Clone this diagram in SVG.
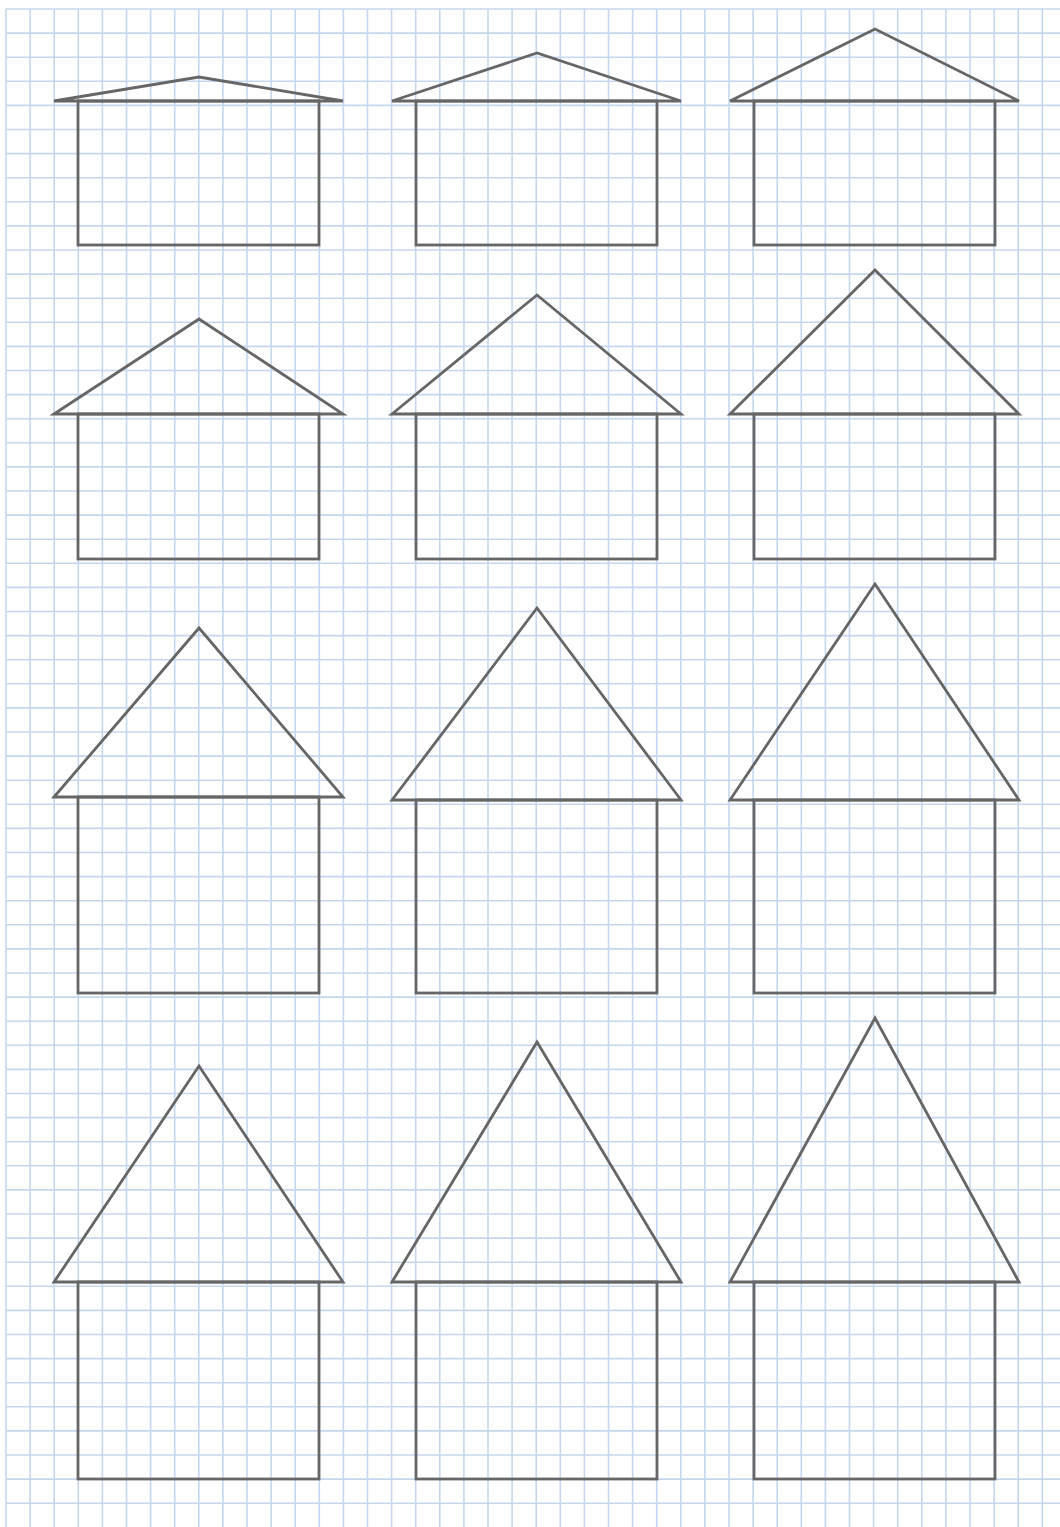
<svg xmlns="http://www.w3.org/2000/svg" width="1060" height="1527" viewBox="0 0 1060 1527">
<style>
.grid{stroke:#c5d7ef;stroke-width:1.6;fill:none}
.roof,.wall{fill:none;stroke:#666666;stroke-width:2.8;stroke-linejoin:miter;stroke-miterlimit:4}
</style>
<rect width="1060" height="1527" fill="#ffffff"/>
<g id="grid">
<path class="grid" d="M6 9V1527M30.1 9V1527M54.2 9V1527M78.3 9V1527M102.4 9V1527M126.5 9V1527M150.6 9V1527M174.7 9V1527M198.8 9V1527M222.9 9V1527M247 9V1527M271.1 9V1527M295.2 9V1527M319.3 9V1527M343.4 9V1527M367.5 9V1527M391.6 9V1527M415.7 9V1527M439.8 9V1527M463.9 9V1527M488 9V1527M512.1 9V1527M536.2 9V1527M560.3 9V1527M584.4 9V1527M608.5 9V1527M632.6 9V1527M656.7 9V1527M680.8 9V1527M704.9 9V1527M729 9V1527M753.1 9V1527M777.2 9V1527M801.3 9V1527M825.4 9V1527M849.5 9V1527M873.6 9V1527M897.7 9V1527M921.8 9V1527M945.9 9V1527M970 9V1527M994.1 9V1527M1018.2 9V1527M1042.3 9V1527"/>
<path class="grid" d="M6 9H1060M6 33.1H1060M6 57.2H1060M6 81.3H1060M6 105.4H1060M6 129.5H1060M6 153.6H1060M6 177.7H1060M6 201.8H1060M6 225.9H1060M6 250H1060M6 274.1H1060M6 298.2H1060M6 322.3H1060M6 346.4H1060M6 370.5H1060M6 394.6H1060M6 418.7H1060M6 442.8H1060M6 466.9H1060M6 491H1060M6 515.1H1060M6 539.2H1060M6 563.3H1060M6 587.4H1060M6 611.5H1060M6 635.6H1060M6 659.7H1060M6 683.8H1060M6 707.9H1060M6 732H1060M6 756.1H1060M6 780.2H1060M6 804.3H1060M6 828.4H1060M6 852.5H1060M6 876.6H1060M6 900.7H1060M6 924.8H1060M6 948.9H1060M6 973H1060M6 997.1H1060M6 1021.2H1060M6 1045.3H1060M6 1069.4H1060M6 1093.5H1060M6 1117.6H1060M6 1141.7H1060M6 1165.8H1060M6 1189.9H1060M6 1214H1060M6 1238.1H1060M6 1262.2H1060M6 1286.3H1060M6 1310.4H1060M6 1334.5H1060M6 1358.6H1060M6 1382.7H1060M6 1406.8H1060M6 1430.9H1060M6 1455H1060M6 1479.1H1060M6 1503.2H1060"/>
</g>
<g id="house-1-1"><rect class="wall" x="78" y="101" width="241" height="144"/><polygon class="roof" points="54,101 199,77 343,101"/></g>
<g id="house-1-2"><rect class="wall" x="416" y="101" width="241" height="144"/><polygon class="roof" points="392,101 537,53 681,101"/></g>
<g id="house-1-3"><rect class="wall" x="754" y="101" width="241" height="144"/><polygon class="roof" points="730,101 875,29 1019,101"/></g>
<g id="house-2-1"><rect class="wall" x="78" y="414" width="241" height="145"/><polygon class="roof" points="54,414 199,319 343,414"/></g>
<g id="house-2-2"><rect class="wall" x="416" y="414" width="241" height="145"/><polygon class="roof" points="392,414 537,295 681,414"/></g>
<g id="house-2-3"><rect class="wall" x="754" y="414" width="241" height="145"/><polygon class="roof" points="730,414 875,270 1019,414"/></g>
<g id="house-3-1"><rect class="wall" x="78" y="797" width="241" height="196"/><polygon class="roof" points="54,797 199,628 343,797"/></g>
<g id="house-3-2"><rect class="wall" x="416" y="800" width="241" height="193"/><polygon class="roof" points="392,800 537,608 681,800"/></g>
<g id="house-3-3"><rect class="wall" x="754" y="800" width="241" height="193"/><polygon class="roof" points="730,800 875,584 1019,800"/></g>
<g id="house-4-1"><rect class="wall" x="78" y="1282" width="241" height="197"/><polygon class="roof" points="54,1282 199,1066 343,1282"/></g>
<g id="house-4-2"><rect class="wall" x="416" y="1282" width="241" height="197"/><polygon class="roof" points="392,1282 537,1042 681,1282"/></g>
<g id="house-4-3"><rect class="wall" x="754" y="1282" width="241" height="197"/><polygon class="roof" points="730,1282 875,1018 1019,1282"/></g>
<g id="connectors"/>
</svg>
